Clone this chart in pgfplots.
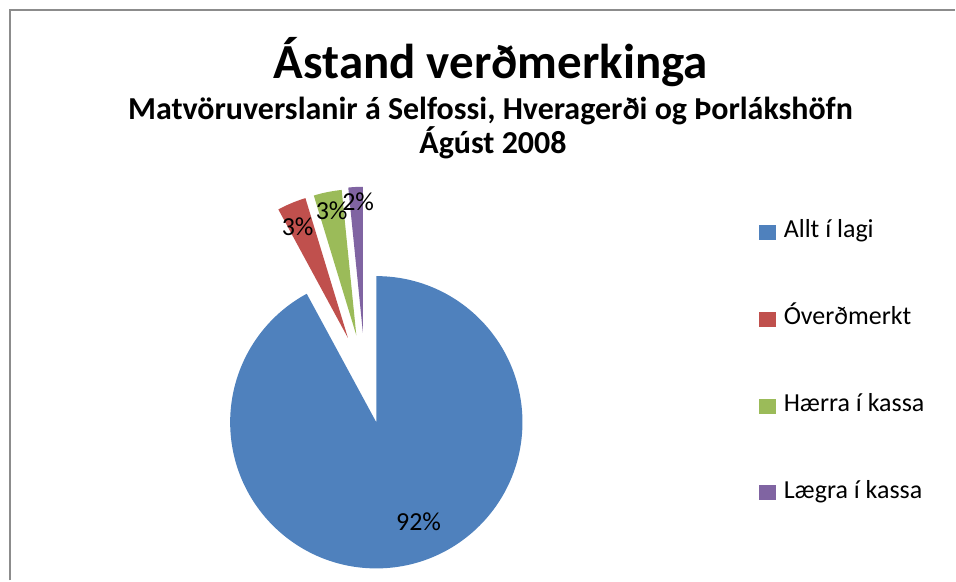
\documentclass[border=0pt]{standalone}
\usepackage{pgfplots}
\pgfplotsset{compat=1.18}
\usepackage{pgfplotstable}
\usepackage{fontspec}
\setmainfont{Carlito}
\definecolor{pieA}{HTML}{4F81BD}
\definecolor{pieB}{HTML}{C0504D}
\definecolor{pieC}{HTML}{9BBB59}
\definecolor{pieD}{HTML}{8064A2}
\definecolor{frame}{HTML}{8C8C8C}

% share (%), explosion offset dx dy (px)
\pgfplotstableread{
value dx dy
92.1 0 0
3.2 -28.4 84.4
3.1 -20.0 87.0
1.6 -13.4 89.4
}\piedata

\def\curang{90}
\pgfplotsforeachungrouped \i in {0,1,2,3}{%
  \pgfplotstablegetelem{\i}{value}\of\piedata
  \pgfmathsetmacro\sweep{3.6*\pgfplotsretval}%
  \pgfmathsetmacro\endang{\curang-\sweep}%
  \expandafter\xdef\csname pieS\i\endcsname{\curang}%
  \expandafter\xdef\csname pieE\i\endcsname{\endang}%
  \pgfplotstablegetelem{\i}{dx}\of\piedata
  \expandafter\xdef\csname pieX\i\endcsname{\pgfplotsretval}%
  \pgfplotstablegetelem{\i}{dy}\of\piedata
  \expandafter\xdef\csname pieY\i\endcsname{\pgfplotsretval}%
  \xdef\curang{\endang}%
}
\def\pcx{376.7}
\def\pcy{158.3}
\def\pr{146.3}

\begin{document}
\begin{tikzpicture}
\begin{axis}[
  scale only axis, width=956pt, height=581pt,
  xmin=0, xmax=956, ymin=0, ymax=581,
  hide axis, clip=false,
  legend style={at={(axis cs:760,361)}, anchor=north west, draw=none, fill=none,
    inner sep=0pt, row sep=63pt, column sep=0pt,
    nodes={text height=18pt, text depth=6pt, inner sep=0pt, font=\fontsize{26}{30}\selectfont, anchor=west}},
  legend cell align=left,
  legend image code/.code={\fill[#1] (0pt,-7pt) rectangle (16pt,7pt);},
]
\path (axis cs:0,0) rectangle (axis cs:956,581);
\draw[frame, line width=2pt] (axis cs:10,0) -- (axis cs:10,571) -- (axis cs:956,571);

\addlegendimage{pieA}\addlegendentry{\hspace{8pt}Allt í lagi}
\addlegendimage{pieB}\addlegendentry{\hspace{8pt}Óverðmerkt}
\addlegendimage{pieC}\addlegendentry{\hspace{8pt}Hærra í kassa}
\addlegendimage{pieD}\addlegendentry{\hspace{8pt}Lægra í kassa}

\pgfplotsinvokeforeach{0,1,2,3}{
  \fill[pie\ifcase#1 A\or B\or C\or D\fi]
    (axis cs:{\pcx+(\csname pieX#1\endcsname)},{\pcy+(\csname pieY#1\endcsname)})
    -- ++(\csname pieS#1\endcsname:\pr pt)
    arc[start angle=\csname pieS#1\endcsname, end angle=\csname pieE#1\endcsname, radius=\pr pt]
    -- cycle;
}

\node[font=\fontsize{26}{30}\selectfont] at (axis cs:419,58.5) {92\%};
\node[font=\fontsize{26}{30}\selectfont] at (axis cs:298,354) {3\%};
\node[font=\fontsize{26}{30}\selectfont] at (axis cs:332,370) {3\%};
\node[font=\fontsize{26}{30}\selectfont] at (axis cs:358.5,379) {2\%};

\node[anchor=base, font=\fontsize{49}{56}\selectfont\bfseries] at (axis cs:491.5,502.7) {Ástand verðmerkinga};
\node[anchor=base, font=\fontsize{32}{36}\selectfont\bfseries] at (axis cs:491,461) {Matvöruverslanir á Selfossi, Hveragerði og Þorlákshöfn};
\node[anchor=base, font=\fontsize{32}{36}\selectfont\bfseries] at (axis cs:493.5,427.7) {Ágúst 2008};
\end{axis}
\end{tikzpicture}
\end{document}
